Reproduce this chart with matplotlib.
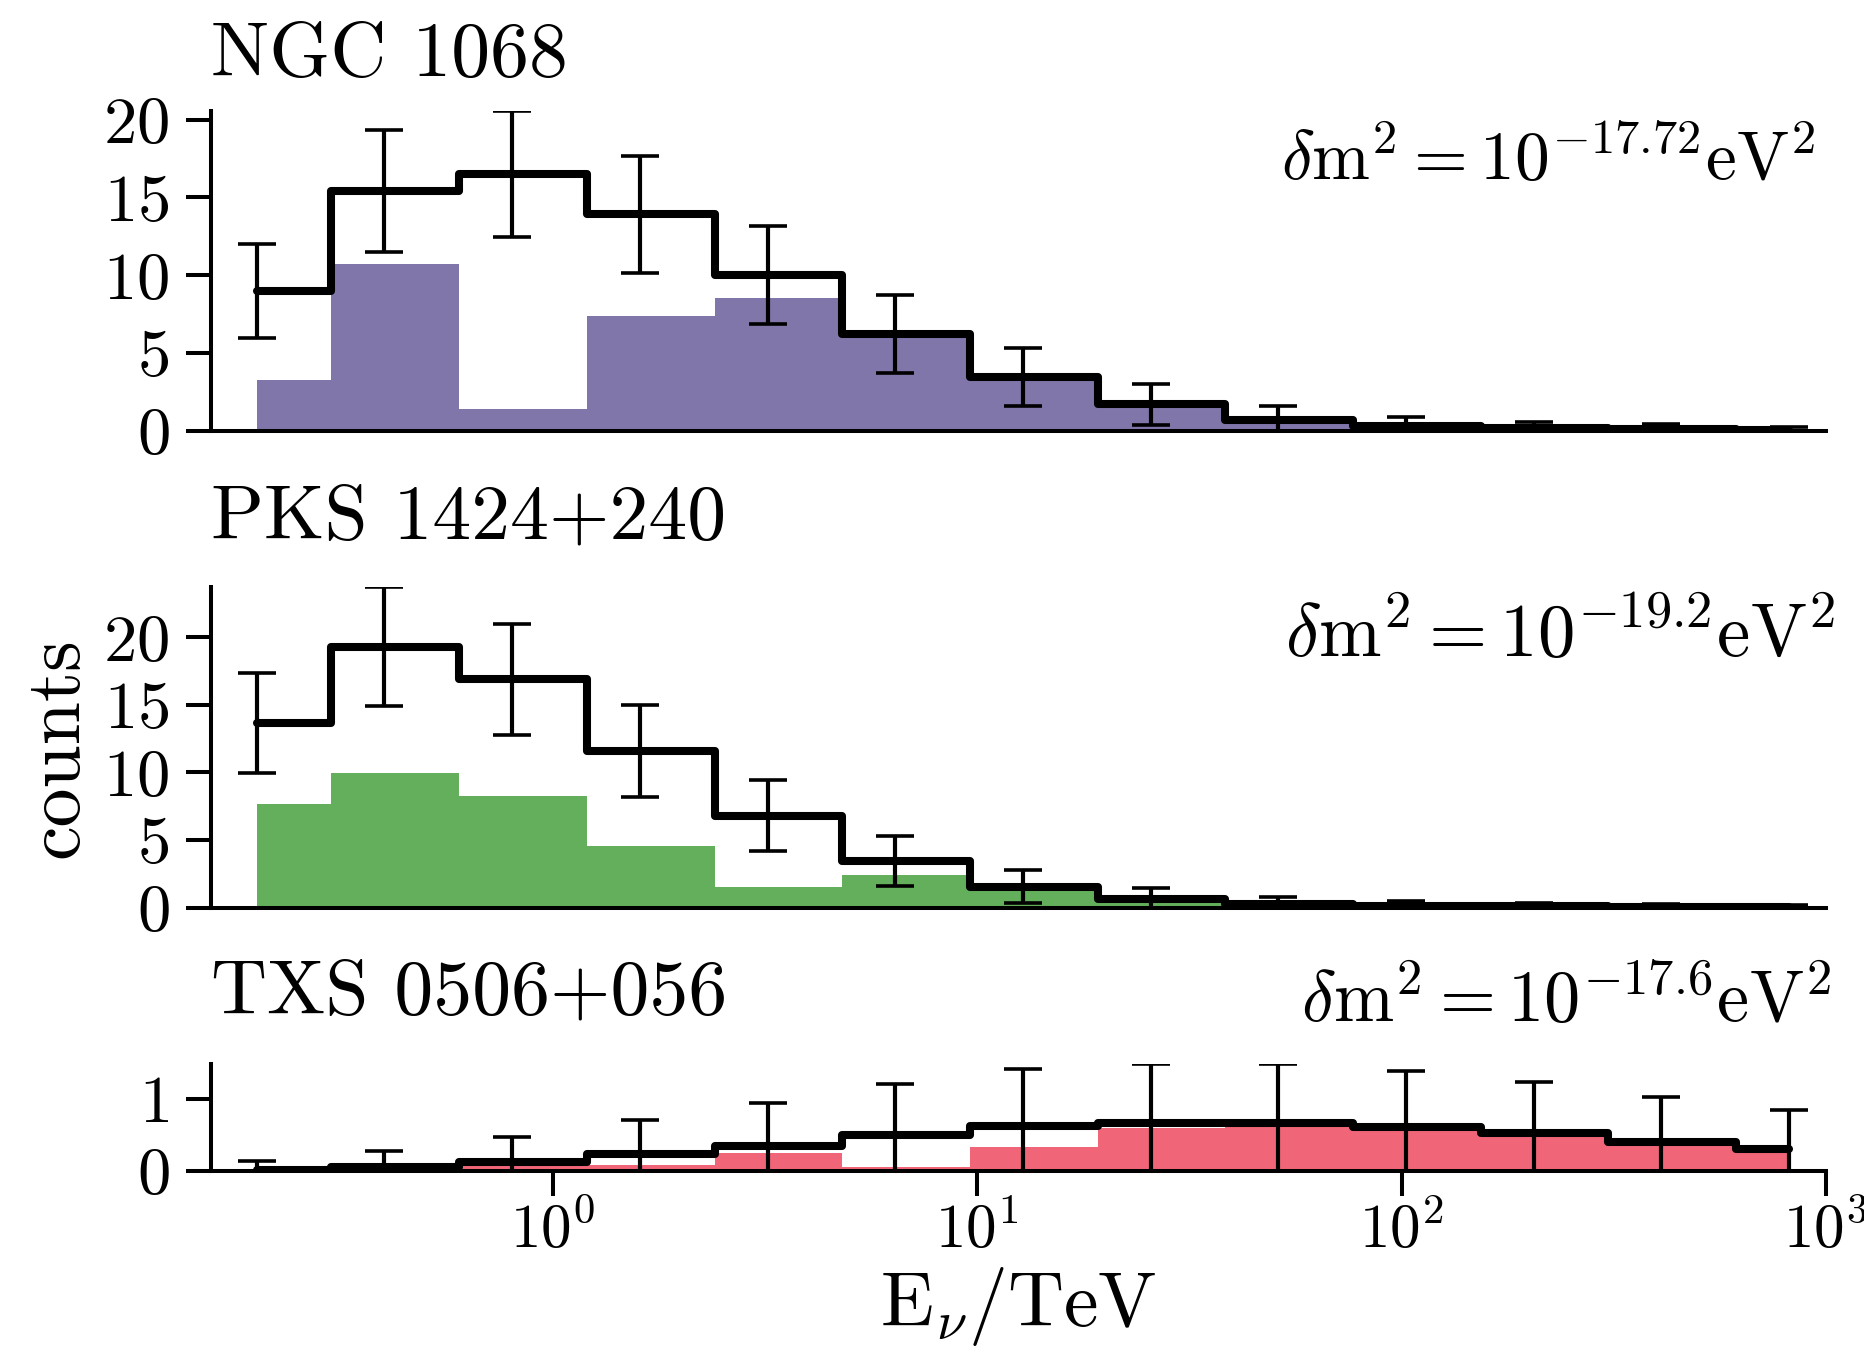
import numpy as np
import matplotlib
matplotlib.use("Agg")
import matplotlib.pyplot as plt

plt.rcParams['font.family'] = 'serif'
plt.rcParams['font.serif'] = ['cmr10']
plt.rcParams['mathtext.fontset'] = 'cm'
plt.rcParams['axes.formatter.use_mathtext'] = True

# energy points (TeV)
energy = [0.2, 0.4, 0.8, 1.6, 3.2, 6.4, 12.8, 25.6, 51.2, 102.4, 204.8, 409.6, 819.2]

# NGC 1068
ngc_counts = [9.0, 15.4, 16.5, 13.9, 10.0, 6.25, 3.45, 1.71, 0.73, 0.33, 0.18, 0.1, 0.05]
ngc_err = [3.0, 3.92, 4.06, 3.73, 3.16, 2.5, 1.86, 1.31, 0.85, 0.57, 0.42, 0.32, 0.22]
ngc_osc = [3.28, 10.72, 1.43, 7.38, 8.55, 6.0, 3.3, 1.6, 0.68, 0.3, 0.15, 0.08, 0.04]

# PKS 1424+240
pks_counts = [13.65, 19.31, 16.88, 11.61, 6.81, 3.45, 1.55, 0.63, 0.25, 0.13, 0.08, 0.05, 0.03]
pks_err = [3.69, 4.39, 4.11, 3.41, 2.61, 1.86, 1.25, 0.79, 0.5, 0.36, 0.28, 0.22, 0.17]
pks_osc = [7.70, 9.99, 8.29, 4.58, 1.53, 2.44, 1.4, 0.5, 0.12, 0.06, 0.04, 0.02, 0.01]

# TXS 0506+056
txs_counts = [0.015, 0.05, 0.12, 0.23, 0.35, 0.50, 0.63, 0.67, 0.67, 0.61, 0.52, 0.40, 0.30]
txs_err = [0.12, 0.22, 0.35, 0.48, 0.59, 0.71, 0.79, 0.82, 0.82, 0.78, 0.72, 0.63, 0.55]
txs_osc = [0.01, 0.02, 0.06, 0.08, 0.25, 0.05, 0.33, 0.59, 0.63, 0.58, 0.49, 0.37, 0.26]

names = ['NGC 1068', 'PKS 1424+240', 'TXS 0506+056']
dm2 = ['-17.72', '-19.2', '-17.6']
colors = ['#8176aa', '#63af5b', '#f06678']

panels = [(ngc_counts, ngc_err, ngc_osc),
          (pks_counts, pks_err, pks_osc),
          (txs_counts, txs_err, txs_osc)]

fig = plt.figure(figsize=(18.65, 13.51), dpi=100)
gs = fig.add_gridspec(3, 1, height_ratios=[3, 3, 1], left=0.1131, right=0.979,
                      top=0.918, bottom=0.1335, hspace=0.628)

title_pads = [25, 35, 36]
# right edge / baseline of the delta m^2 label, axes fraction
text_pos = [(0.993, 0.785), (1.006, 0.783), (1.003, 1.394)]
text_size = [50, 54, 52]
yticks = [[0, 5, 10, 15, 20], [0, 5, 10, 15, 20], [0, 1]]

axes = []
for i, (counts, err, osc) in enumerate(panels):
    ax = fig.add_subplot(gs[i])
    axes.append(ax)
    ax.fill_between(energy, osc, step='mid', color=colors[i], linewidth=0, zorder=1)
    ax.step(energy, counts, where='mid', color='k', linewidth=5.8,
            solid_joinstyle='round', solid_capstyle='round', zorder=2)
    ax.errorbar(energy, counts, yerr=err, fmt='none', ecolor='k', elinewidth=3.0,
                capsize=14, capthick=2.6, zorder=3)
    ax.set_xscale('log')
    ax.set_xlim(0.156, 1000)
    ax.set_ylim(0, max(np.array(counts) + np.array(err)))
    ax.set_yticks(yticks[i])
    ax.spines['top'].set_visible(False)
    ax.spines['right'].set_visible(False)
    ax.spines['left'].set_linewidth(2.9)
    ax.spines['bottom'].set_linewidth(2.9)
    ax.tick_params(axis='both', which='major', direction='out', length=18, width=2.9,
                   labelsize=48, pad=12)
    ax.minorticks_off()
    if i < 2:
        ax.tick_params(axis='x', which='both', bottom=False, labelbottom=False)
    else:
        ax.tick_params(axis='x', pad=4, labelsize=44)
    ax.set_title(names[i], loc='left', fontsize=56, pad=title_pads[i])
    ax.text(text_pos[i][0], text_pos[i][1],
            r'$\delta\mathrm{m}^2 = 10^{' + dm2[i] + r'}\mathrm{eV}^2$',
            transform=ax.transAxes, ha='right', va='baseline', fontsize=text_size[i])

axes[1].set_ylabel('counts', fontsize=56, labelpad=8)
axes[2].set_xlabel(r'$\mathrm{E}_\nu/\mathrm{TeV}$', fontsize=56, labelpad=4)

plt.savefig('out.png', dpi=100)
